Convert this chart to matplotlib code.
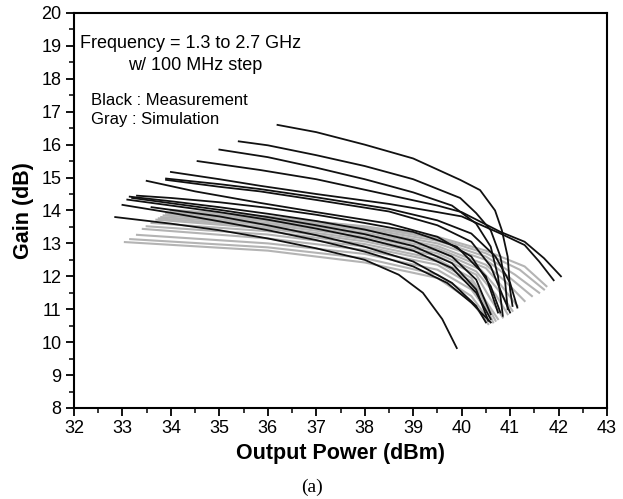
import matplotlib
matplotlib.use("Agg")
import matplotlib.pyplot as plt
from matplotlib.ticker import MultipleLocator

plt.rcParams['font.family'] = ['Liberation Sans', 'DejaVu Sans']

# Measurement curves (black): output power (dBm) and gain (dB), 1.3-2.7 GHz
meas_power = [
    [36.2, 37, 38, 39, 39.97, 40.38, 40.69, 40.83, 40.95, 41.0, 41.05],
    [35.4, 36, 37, 38, 39, 39.97, 40.3, 40.6, 40.8, 40.9, 40.95],
    [35.0, 36, 37, 38, 39, 39.8, 40.3, 40.6, 40.75, 40.85],
    [34.55, 35.84, 37, 38.5, 39.5, 40.0, 40.8, 41.3, 41.7, 42.05],
    [34.0, 35, 35.84, 37, 38.5, 39.5, 40.0, 40.8, 41.3, 41.6, 41.9],
    [33.9, 35, 35.84, 37, 38.5, 39.5, 40.2, 40.7, 41.0, 41.15],
    [33.9, 35, 35.84, 37, 38.5, 39.5, 40.2, 40.6, 40.85, 41.0],
    [33.5, 34.5, 35.84, 37, 38.5, 39.5, 40.2, 40.6, 40.8],
    [33.3, 34, 35, 36, 37, 38, 39, 39.9, 40.5, 40.75],
    [33.15, 34, 35, 36, 37, 38, 39, 39.8, 40.3, 40.6],
    [33.2, 34, 35, 36, 37, 38, 39, 39.8, 40.3, 40.55],
    [33.1, 34, 35, 36, 37, 38, 39, 39.8, 40.3, 40.6],
    [33.6, 35, 36, 37, 38, 39, 39.8, 40.3, 40.5],
    [33.0, 34, 35, 36, 37, 38, 39, 39.7, 40.2, 40.6],
    [32.85, 34, 35, 36, 37, 38, 38.7, 39.2, 39.6, 39.9],
]
meas_gain = [
    [16.6, 16.38, 16.0, 15.58, 14.93, 14.62, 14.0, 13.4, 12.6, 11.6, 11.1],
    [16.1, 15.98, 15.68, 15.35, 14.95, 14.38, 13.92, 13.4, 12.6, 11.8, 11.0],
    [15.85, 15.62, 15.3, 14.95, 14.55, 14.15, 13.6, 12.9, 12.0, 10.8],
    [15.5, 15.23, 14.95, 14.47, 14.15, 13.95, 13.35, 13.05, 12.55, 12.0],
    [15.17, 14.95, 14.75, 14.5, 14.2, 13.95, 13.82, 13.3, 12.95, 12.45, 11.88],
    [14.97, 14.8, 14.65, 14.4, 14.05, 13.7, 13.3, 12.6, 11.8, 11.05],
    [14.93, 14.72, 14.58, 14.32, 13.97, 13.55, 13.05, 12.3, 11.4, 10.9],
    [14.9, 14.58, 14.23, 13.95, 13.6, 13.2, 12.6, 11.7, 10.9],
    [14.45, 14.38, 14.25, 14.08, 13.87, 13.62, 13.35, 12.9, 12.0, 10.9],
    [14.42, 14.28, 14.1, 13.9, 13.68, 13.42, 13.08, 12.6, 11.9, 10.85],
    [14.38, 14.22, 14.02, 13.8, 13.55, 13.28, 12.92, 12.4, 11.6, 10.65],
    [14.33, 14.15, 13.95, 13.72, 13.45, 13.15, 12.78, 12.25, 11.5, 10.7],
    [14.1, 13.82, 13.55, 13.25, 12.9, 12.45, 11.8, 11.1, 10.6],
    [14.17, 13.93, 13.67, 13.4, 13.1, 12.75, 12.3, 11.8, 11.2, 10.6],
    [13.8, 13.6, 13.4, 13.15, 12.85, 12.5, 12.05, 11.5, 10.7, 9.82],
]

# Simulation curves (gray)
sim_power = [
    [34.0, 36, 38, 39.5, 40.5, 41.2, 41.7],
    [34.0, 36, 38, 39.5, 40.5, 41.3, 41.75],
    [34.0, 36, 38, 39.5, 40.5, 41.1, 41.6],
    [33.95, 36, 38, 39.5, 40.5, 41.0, 41.45],
    [33.9, 36, 38, 39.5, 40.5, 40.9, 41.3],
    [33.85, 36, 38, 39.5, 40.5, 40.8, 41.15],
    [33.8, 36, 38, 39.5, 40.4, 40.75, 41.05],
    [33.75, 36, 38, 39.5, 40.3, 40.7, 40.95],
    [33.7, 36, 38, 39.5, 40.3, 40.6, 40.85],
    [33.6, 36, 38, 39.5, 40.2, 40.5, 40.75],
    [33.5, 36, 38, 39.5, 40.2, 40.5, 40.7],
    [33.42, 36, 38, 39.5, 40.2, 40.5, 40.65],
    [33.3, 36, 38, 39.5, 40.2, 40.55],
    [33.16, 36, 38, 39.5, 40.2, 40.6],
    [33.05, 36, 38, 39.5, 40.2, 40.55],
]
sim_gain = [
    [14.02, 13.82, 13.5, 13.15, 12.7, 12.2, 11.6],
    [14.0, 13.8, 13.52, 13.2, 12.78, 12.3, 11.7],
    [13.97, 13.77, 13.45, 13.08, 12.6, 12.05, 11.5],
    [13.93, 13.72, 13.4, 13.0, 12.5, 11.95, 11.4],
    [13.9, 13.68, 13.33, 12.92, 12.35, 11.85, 11.25],
    [13.85, 13.62, 13.27, 12.85, 12.25, 11.75, 11.1],
    [13.8, 13.57, 13.2, 12.78, 12.2, 11.6, 10.95],
    [13.76, 13.5, 13.13, 12.7, 12.15, 11.45, 10.85],
    [13.72, 13.45, 13.06, 12.62, 12.05, 11.3, 10.75],
    [13.62, 13.37, 12.98, 12.52, 11.95, 11.25, 10.7],
    [13.52, 13.27, 12.9, 12.45, 11.85, 11.2, 10.65],
    [13.44, 13.15, 12.8, 12.35, 11.75, 11.1, 10.6],
    [13.26, 13.0, 12.68, 12.2, 11.6, 10.9],
    [13.13, 12.88, 12.55, 12.05, 11.4, 10.6],
    [13.04, 12.78, 12.42, 11.95, 11.25, 10.55],
]

x_ticks = list(range(32, 44))
y_ticks = list(range(8, 21))

fig = plt.figure(figsize=(6.23, 4.99), dpi=100)
ax = fig.add_axes([0.1188, 0.1824, 0.8555, 0.7916])

for p, g in zip(sim_power, sim_gain):
    ax.plot(p, g, color='#b4b4b4', lw=1.5, zorder=2)
for p, g in zip(meas_power, meas_gain):
    ax.plot(p, g, color='#111111', lw=1.3, zorder=3)

ax.set_xlim(32, 43)
ax.set_ylim(8, 20)
ax.set_xticks(x_ticks)
ax.set_yticks(y_ticks)
ax.xaxis.set_minor_locator(MultipleLocator(0.5))
ax.yaxis.set_minor_locator(MultipleLocator(0.5))
ax.tick_params(which='major', direction='out', length=6, width=1.3, labelsize=13, pad=3)
ax.tick_params(which='minor', direction='out', length=3.5, width=1.1)
for s in ax.spines.values():
    s.set_linewidth(1.5)

ax.set_xlabel('Output Power (dBm)', fontsize=15.5, fontweight='bold', labelpad=4)
ax.set_ylabel('Gain (dB)', fontsize=15.5, fontweight='bold', labelpad=5)

ax.text(0.011, 0.922, 'Frequency = 1.3 to 2.7 GHz', transform=ax.transAxes, fontsize=13, va='center', ha='left')
ax.text(0.101, 0.866, 'w/ 100 MHz step', transform=ax.transAxes, fontsize=13, va='center', ha='left')
ax.text(0.032, 0.778, 'Black : Measurement', transform=ax.transAxes, fontsize=12, va='center', ha='left')
ax.text(0.032, 0.730, 'Gray : Simulation', transform=ax.transAxes, fontsize=12, va='center', ha='left')

fig.text(312 / 623, 1 - 487 / 499, '(a)', family=['Liberation Serif', 'DejaVu Serif'], fontsize=14, ha='center', va='center')

fig.savefig('out.png', dpi=100)
